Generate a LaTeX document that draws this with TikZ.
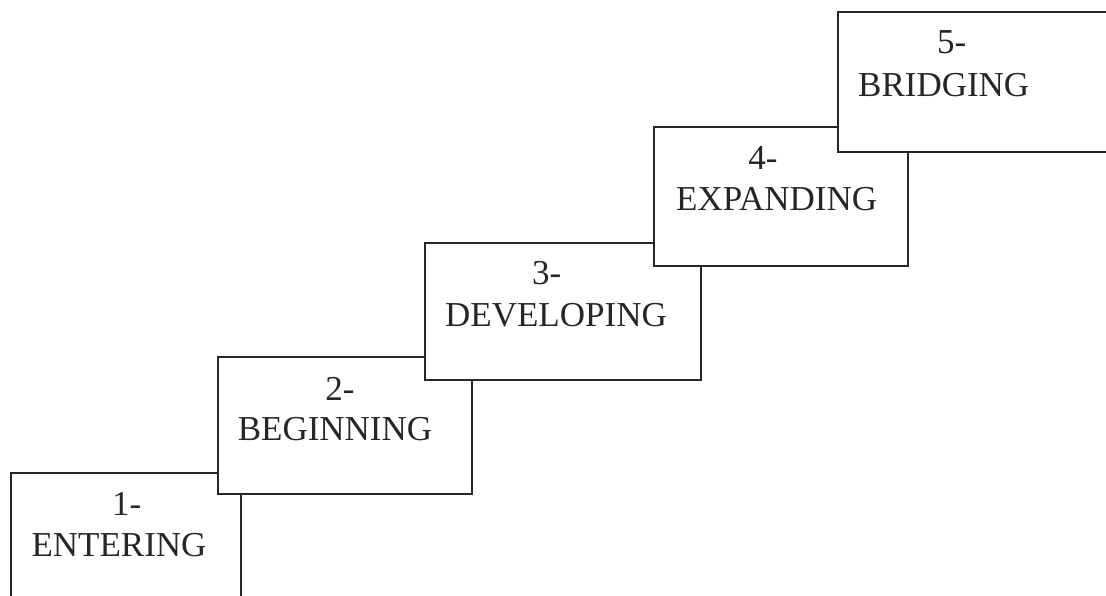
\documentclass[tikz,border=0pt]{standalone}
\usepackage{fontspec}
\setmainfont{Liberation Serif}
\begin{document}
\begin{tikzpicture}[x=1pt,y=-1pt,
  stepbox/.style={draw=black!85, line width=2pt, fill=white, rectangle, inner sep=0pt, anchor=north west},
  lbl/.style={anchor=base, inner sep=0pt, text=black!85, font=\fontsize{35}{40}\selectfont}]
\useasboundingbox (0,0) rectangle (1106,596);
\clip (0,0) rectangle (1106,596);
% boxes
\node[stepbox, minimum width=230pt, minimum height=150pt] (b1) at (10,471.7) {};
\node[stepbox, minimum width=254pt, minimum height=137.6pt] (b2) at (216.7,355.7) {};
\node[stepbox, minimum width=275.7pt, minimum height=137pt] (b3) at (424.3,241.7) {};
\node[stepbox, minimum width=254pt, minimum height=139.3pt] (b4) at (652.7,125.7) {};
\node[stepbox, minimum width=300pt, minimum height=139.7pt] (b5) at (837.3,11.3) {};
% labels
\node[lbl] (n1) at (126.7,515) {1-};
\node[lbl] (t1) at (119,556) {ENTERING};
\node[lbl] (n2) at (340,400) {2-};
\node[lbl] (t2) at (335,440.7) {BEGINNING};
\node[lbl] (n3) at (546.7,284) {3-};
\node[lbl] (t3) at (556,326) {DEVELOPING};
\node[lbl] (n4) at (763,170) {4-};
\node[lbl] (t4) at (776.7,210.7) {EXPANDING};
\node[lbl] (n5) at (951.7,53.3) {5-};
\node[lbl] (t5) at (943.7,96.7) {BRIDGING};
\end{tikzpicture}
\end{document}
